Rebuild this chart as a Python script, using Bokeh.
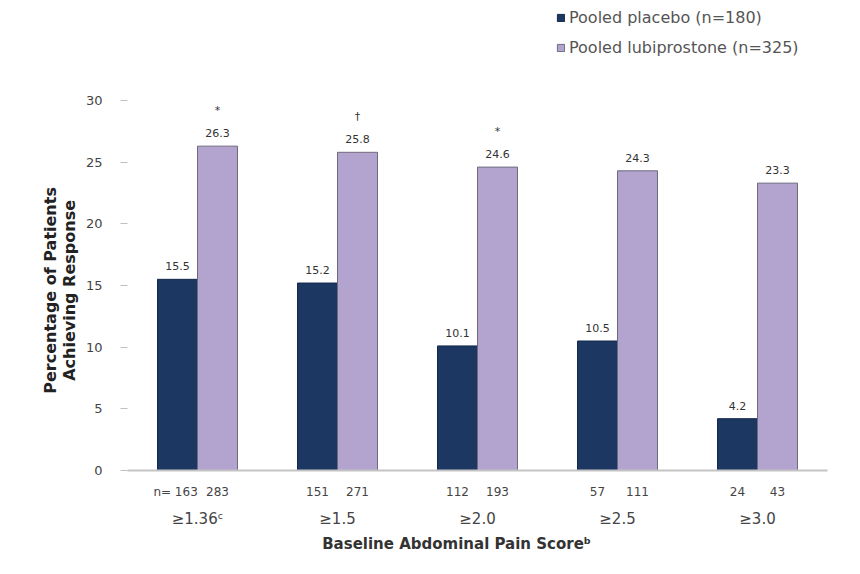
from bokeh.plotting import figure
from bokeh.models import (FactorRange, Range1d, Legend, LegendItem,
                          ColumnDataSource, FixedTicker)
from bokeh.embed import file_html
from bokeh.resources import INLINE
from bokeh.core.properties import value

# ---- data ----
thresholds = ["≥1.36ᶜ", "≥1.5", "≥2.0", "≥2.5", "≥3.0"]
placebo_pct = [15.5, 15.2, 10.1, 10.5, 4.2]
lubi_pct = [26.3, 25.8, 24.6, 24.3, 23.3]
placebo_n = [163, 151, 112, 57, 24]
lubi_n = [283, 271, 193, 111, 43]
significance = ["*", "†", "*", "", ""]
y_ticks = [0, 5, 10, 15, 20, 25, 30]
series_names = ["Pooled placebo (n=180)", "Pooled lubiprostone (n=325)"]
x_title = "Baseline Abdominal Pain Scoreᵇ"
y_title_lines = ["Percentage of Patients", "Achieving Response"]

FONT = "DejaVu Sans"
C_PLACEBO = "#1d3763"
C_LUBI = "#b3a3cf"

placebo_x = [(t, ("n=  " if i == 0 else "") + str(n))
             for i, (t, n) in enumerate(zip(thresholds, placebo_n))]
lubi_x = [(t, str(n)) for t, n in zip(thresholds, lubi_n)]
factors = [f for pair in zip(placebo_x, lubi_x) for f in pair]

x_range = FactorRange(*factors, factor_padding=0, group_padding=1.5,
                      range_padding=0.75, range_padding_units="absolute")

# frame: 0 at y 470, 30 at y 100 -> extra room above 30 for the legend
PX_PER_UNIT = 370 / 30
FRAME_TOP = 4
Y_END = 30 + (100 - FRAME_TOP) / PX_PER_UNIT
FRAME_H = 470 - FRAME_TOP

p = figure(width=844, height=558, x_range=x_range, y_range=Range1d(0, Y_END),
           output_backend="svg", toolbar_location=None,
           min_border_left=127, min_border_right=17,
           min_border_top=FRAME_TOP, min_border_bottom=88)
p.outline_line_color = None
p.xgrid.grid_line_color = None
p.ygrid.grid_line_color = None

src_p = ColumnDataSource(dict(x=placebo_x, top=placebo_pct,
                              lab=[f"{v:.1f}" for v in placebo_pct]))
src_l = ColumnDataSource(dict(x=lubi_x, top=lubi_pct,
                              lab=[f"{v:.1f}" for v in lubi_pct],
                              sig=significance))

r_p = p.vbar(x="x", top="top", width=1.0, source=src_p,
             fill_color=C_PLACEBO, line_color="#14284a", line_width=1)
r_l = p.vbar(x="x", top="top", width=1.0, source=src_l,
             fill_color=C_LUBI, line_color="#6e6a7e", line_width=1)

for src in (src_p, src_l):
    p.text(x="x", y="top", text="lab", source=src, y_offset=-9,
           text_align="center", text_baseline="bottom",
           text_font=value(FONT), text_font_size="11px", text_color="#333333")
p.text(x="x", y="top", text="sig", source=src_l, y_offset=-29,
       text_align="center", text_baseline="bottom",
       text_font=value(FONT), text_font_size="11px", text_color="#333333")

# y axis
pad = "\u00a0" * 19
ya = p.yaxis[0]
ya.ticker = FixedTicker(ticks=y_ticks)
ya.axis_line_color = None
ya.major_tick_line_color = "#c0c0c0"
ya.major_tick_out = 7
ya.major_tick_in = 0
ya.minor_tick_line_color = None
ya.major_label_standoff = 18
ya.major_label_text_font = FONT
ya.major_label_text_font_size = "13px"
ya.major_label_text_color = "#444444"
ya.axis_label = "\n".join(line + pad for line in y_title_lines)
ya.axis_label_text_font = FONT
ya.axis_label_text_font_style = "bold"
ya.axis_label_text_font_size = "16px"
ya.axis_label_text_line_height = 1.0
ya.axis_label_text_color = "#222222"
ya.axis_label_standoff = 4

# x axis
xa = p.xaxis[0]
xa.axis_line_color = "#c4c4c4"
xa.axis_line_width = 2
xa.major_tick_line_color = None
xa.minor_tick_line_color = None
xa.separator_line_color = None
xa.major_label_standoff = 8
xa.major_label_text_font = FONT
xa.major_label_text_font_size = "12px"
xa.major_label_text_color = "#444444"
xa.group_text_font = FONT
xa.group_text_font_size = "15px"
xa.group_text_font_style = "normal"
xa.group_text_color = "#444444"
xa.axis_label = x_title + "\u00a0" * 8
xa.axis_label_text_font = FONT
xa.axis_label_text_font_style = "bold"
xa.axis_label_text_font_size = "15px"
xa.axis_label_text_color = "#333333"
xa.axis_label_standoff = 4

legend = Legend(items=[LegendItem(label=series_names[0], renderers=[r_p]),
                       LegendItem(label=series_names[1], renderers=[r_l])],
                location=(429, FRAME_H - 53), orientation="vertical",
                glyph_width=9, glyph_height=9, label_height=20,
                spacing=10, padding=0, margin=0, label_standoff=4,
                border_line_color=None, background_fill_alpha=0,
                label_text_font=FONT, label_text_font_size="16px",
                label_text_color="#555555")
p.add_layout(legend, "center")

open("out.html", "w").write(file_html(p, INLINE))
